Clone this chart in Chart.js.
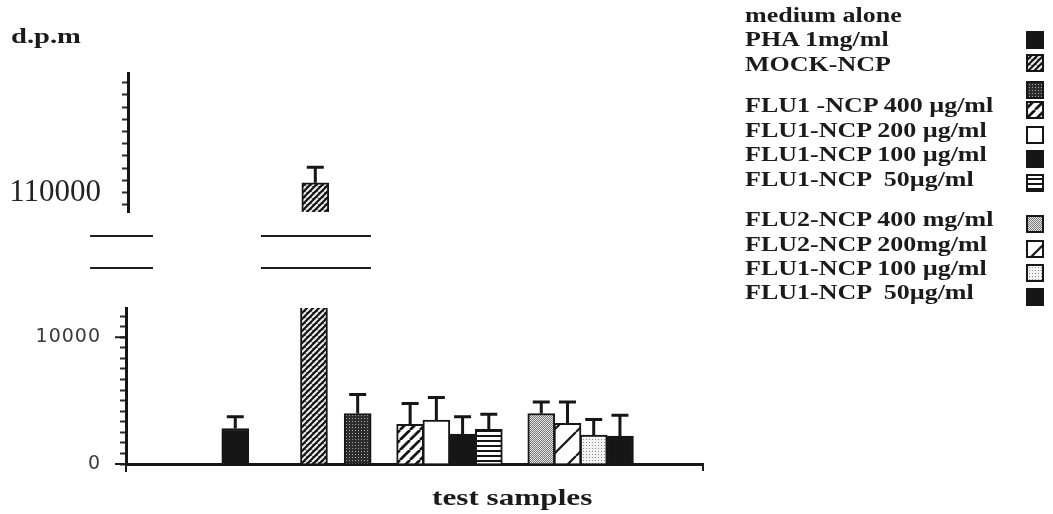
<!DOCTYPE html>
<html>
<head>
<meta charset="utf-8">
<script src="https://cdn.jsdelivr.net/npm/chart.js@4.4.1/dist/chart.umd.min.js"></script>
<style>
  body { margin: 0; background: #fff; }
  #wrap { position: relative; width: 1053px; height: 514px; overflow: hidden; background: #fff; }
  canvas.layer { position: absolute; left: 0; top: 0; }
  .txt { position: absolute; font-family: 'Liberation Serif', serif; font-weight: bold; color: #1b1b1b;
         white-space: pre; line-height: 1; transform: scaleX(1.3); transform-origin: 0 0; }
  .sw { position: absolute; }
</style>
</head>
<body>
<div id="wrap">
  <canvas id="lower" class="layer" width="1053" height="514"></canvas>
  <canvas id="upper" class="layer" width="1053" height="514"></canvas>
  <div class="txt" style="left:11px; top:25px; font-size:22px">d.p.m</div>
  <div class="txt" style="left:432px; top:485px; font-size:24px">test samples</div>
  <div id="legend"></div>
</div>
<script>
// data
const samples = ['medium alone', 'PHA 1mg/ml', 'MOCK-NCP',
  'FLU1 -NCP 400 µg/ml', 'FLU1-NCP 200 µg/ml', 'FLU1-NCP 100 µg/ml', 'FLU1-NCP  50µg/ml',
  'FLU2-NCP 400 mg/ml', 'FLU2-NCP 200mg/ml', 'FLU1-NCP 100 µg/ml', 'FLU1-NCP  50µg/ml'];
const means = [2800, 110800, 3980, 3120, 3460, 2360, 2730, 3980, 3200, 2280, 2200];
const errors = [920, 1270, 1500, 1650, 1780, 1360, 1200, 910, 1690, 1230, 1650];
const lowerTicks = [0, 10000];
const upperTicks = [110000];

// layout (slot on the x axis, fill, legend rows)
const slotCount = 66;
const slots = [12, 21, 26, 32, 35, 38, 41, 47, 50, 53, 56];
const fillKinds = ['solid', 'hatchDense', 'dotsDark', 'hatch', 'white', 'solid', 'hstripes',
  'dotsMid', 'hatchSparse', 'dotsLight', 'solid'];
const legendTextY = [22, 46, 71, 112, 137, 161, 186, 226, 251, 275, 299];
const legendBoxY = [40, 63, 90, 110, 135, 159, 183, 224, 249, 273, 297];
const lowerMin = 0, lowerMax = 12300, lowerStep = 10000 / 12;
const upperMin = 108400, upperMax = 119800, upperStep = 1000;

function makeFill(kind) {
  if (kind === 'solid') return '#161616';
  if (kind === 'white') return '#ffffff';
  const c = document.createElement('canvas');
  let g = c.getContext('2d');
  function diag(size, bg, fg, w) {
    c.width = c.height = size;
    g.fillStyle = bg; g.fillRect(0, 0, size, size);
    g.strokeStyle = fg; g.lineWidth = w;
    g.beginPath();
    [-size, 0, size].forEach(function (o) { g.moveTo(o, size); g.lineTo(o + size, 0); });
    g.stroke();
  }
  function dots(size, bg, fg) {
    c.width = c.height = size;
    g.fillStyle = bg; g.fillRect(0, 0, size, size);
    g.fillStyle = fg; g.fillRect(1, 1, 1, 1);
  }
  if (kind === 'hatchDense') diag(6, '#151515', '#eeeeee', 2);
  if (kind === 'hatch') diag(10, '#ffffff', '#151515', 2.8);
  if (kind === 'hatchSparse') diag(24, '#ffffff', '#151515', 2.2);
  if (kind === 'dotsDark') dots(3, '#2c2c2c', '#a8a8a8');
  if (kind === 'dotsLight') dots(3, '#f3f3f3', '#8c8c8c');
  if (kind === 'dotsMid') {
    c.width = c.height = 2;
    g.fillStyle = '#7c7c7c'; g.fillRect(0, 0, 2, 2);
    g.fillStyle = '#e2e2e2'; g.fillRect(0, 0, 1, 1); g.fillRect(1, 1, 1, 1);
  }
  if (kind === 'hstripes') {
    c.width = 1; c.height = 5;
    g.fillStyle = '#ffffff'; g.fillRect(0, 0, 1, 5);
    g.fillStyle = '#151515'; g.fillRect(0, 0, 1, 2);
  }
  return g.createPattern(c, 'repeat');
}
const fills = fillKinds.map(makeFill);

// spread the samples over the x axis slots
const labels = Array(slotCount).fill('');
const lowerData = Array(slotCount).fill(null);
const upperData = Array(slotCount).fill(null);
const errData = Array(slotCount).fill(null);
const slotFill = Array(slotCount).fill('#fff');
slots.forEach(function (s, i) {
  labels[s] = samples[i];
  lowerData[s] = means[i];
  upperData[s] = means[i] > upperMin ? means[i] : null;
  errData[s] = errors[i];
  slotFill[s] = fills[i];
});

const errorBars = {
  id: 'errorBars',
  afterDatasetsDraw(chart) {
    const ctx = chart.ctx, area = chart.chartArea;
    const ds = chart.data.datasets[0];
    const meta = chart.getDatasetMeta(0);
    const y = chart.scales.y;
    ctx.save();
    ctx.strokeStyle = '#161616';
    ctx.lineWidth = 3;
    meta.data.forEach(function (bar, i) {
      if (ds.data[i] == null || ds.errors[i] == null) return;
      const top = y.getPixelForValue(ds.data[i] + ds.errors[i]);
      if (top < area.top) return;
      ctx.beginPath();
      ctx.moveTo(bar.x, bar.y);
      ctx.lineTo(bar.x, top);
      ctx.moveTo(bar.x - 8.5, top);
      ctx.lineTo(bar.x + 8.5, top);
      ctx.stroke();
    });
    ctx.restore();
  }
};

const breaks = {
  id: 'breaks',
  beforeDraw(chart) { chart.ctx.letterSpacing = '1px'; },
  afterDraw(chart) {
    const ctx = chart.ctx, area = chart.chartArea;
    const pha = chart.getDatasetMeta(0).data[slots[1]];
    const y = chart.scales.y;
    ctx.save();
    ctx.strokeStyle = '#1e1e1e';
    ctx.lineWidth = 2;
    ctx.beginPath();
    [236, 268].forEach(function (yy) {
      ctx.moveTo(area.left - 36, yy); ctx.lineTo(area.left + 27, yy);
      ctx.moveTo(pha.x - 53, yy); ctx.lineTo(pha.x + 57, yy);
    });
    ctx.moveTo(area.right, area.bottom); ctx.lineTo(area.right, area.bottom + 7);
    ctx.moveTo(area.left, area.bottom); ctx.lineTo(area.left, area.bottom + 8);
    // longer marks at the labelled ticks
    lowerTicks.forEach(function (t) {
      const py = y.getPixelForValue(t);
      ctx.moveTo(area.left - 11, py); ctx.lineTo(area.left, py);
    });
    ctx.stroke();
    ctx.restore();
  }
};

// minor ticks every step, only the listed values get a label
function stepTicks(min, max, step) {
  return function (scale) {
    const out = [];
    for (let v = Math.ceil(min / step - 1e-9) * step; v <= max + 1e-9; v += step) out.push({ value: v });
    scale.ticks = out;
  };
}
function tickText(list) {
  return function (v) {
    const hit = list.find(function (t) { return Math.abs(t - v) < 1; });
    return hit === undefined ? '' : String(hit);
  };
}

function barDataset(data) {
  return {
    data: data,
    errors: errData,
    backgroundColor: function (c) { return slotFill[c.dataIndex]; },
    borderColor: '#161616',
    borderWidth: 2,
    barThickness: 27,
    clip: 0
  };
}

new Chart(document.getElementById('lower'), {
  type: 'bar',
  data: { labels: labels, datasets: [barDataset(lowerData)] },
  options: {
    responsive: false,
    animation: false,
    layout: { padding: { left: 0, top: 308, right: 350, bottom: 0 } },
    plugins: { legend: { display: false }, tooltip: { enabled: false } },
    scales: {
      x: {
        offset: true,
        grid: { display: false },
        border: { display: true, width: 3, color: '#161616' },
        ticks: { display: false },
        afterFit: function (s) { s.height = 50; }
      },
      y: {
        min: lowerMin, max: lowerMax,
        afterFit: function (s) { s.width = 126; },
        afterBuildTicks: stepTicks(lowerMin, lowerMax - 200, lowerStep),
        ticks: {
          autoSkip: false, padding: 19,
          color: '#3a3a3a', font: { family: "'DejaVu Sans'", size: 19 },
          callback: tickText(lowerTicks)
        },
        grid: { drawOnChartArea: false, tickLength: 6, tickWidth: 2, color: '#2a2a2a' },
        border: { width: 3, color: '#161616' }
      }
    }
  },
  plugins: [errorBars, breaks]
});

new Chart(document.getElementById('upper'), {
  type: 'bar',
  data: { labels: labels, datasets: [barDataset(upperData)] },
  options: {
    responsive: false,
    animation: false,
    layout: { padding: { left: 0, top: 73, right: 350, bottom: 302 } },
    plugins: { legend: { display: false }, tooltip: { enabled: false } },
    scales: {
      x: { offset: true, display: false },
      y: {
        min: upperMin, max: upperMax,
        afterFit: function (s) { s.width = 128; },
        afterBuildTicks: stepTicks(upperMin, upperMax, upperStep),
        ticks: {
          autoSkip: false, padding: 21,
          color: '#222', font: { family: "'Liberation Serif'", size: 31 },
          callback: tickText(upperTicks)
        },
        grid: { drawOnChartArea: false, tickLength: 6, tickWidth: 2, color: '#2a2a2a' },
        border: { width: 3, color: '#161616' }
      }
    }
  },
  plugins: [errorBars]
});

// legend on the right
const legend = document.getElementById('legend');
samples.forEach(function (name, i) {
  const t = document.createElement('div');
  t.className = 'txt';
  t.style.left = '745px';
  t.style.top = (legendTextY[i] - 17) + 'px';
  t.style.fontSize = '20px';
  t.textContent = name;
  legend.appendChild(t);

  const sw = document.createElement('canvas');
  sw.className = 'sw';
  sw.width = 20; sw.height = 20;
  sw.style.left = '1025px';
  sw.style.top = (legendBoxY[i] - 10) + 'px';
  const g = sw.getContext('2d');
  g.fillStyle = fills[i];
  g.fillRect(1, 1, 18, 18);
  g.strokeStyle = '#161616';
  g.lineWidth = 2;
  g.strokeRect(2, 2, 16, 16);
  legend.appendChild(sw);
});
</script>
</body>
</html>
